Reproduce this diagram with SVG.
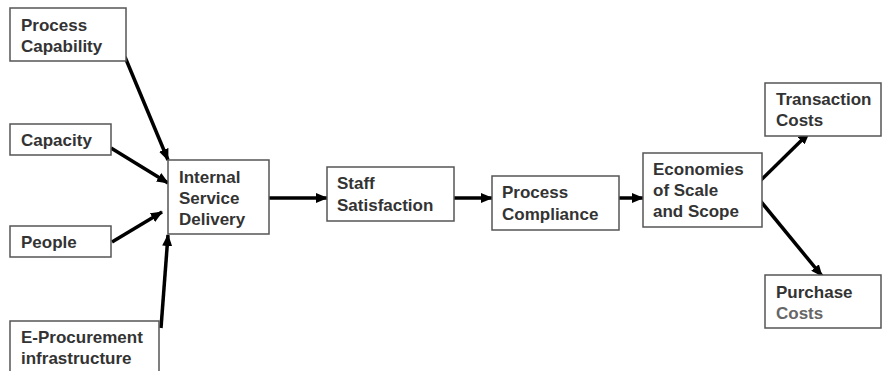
<svg xmlns="http://www.w3.org/2000/svg" width="883" height="371" viewBox="0 0 883 371">
<defs>
<marker id="ah" markerUnits="userSpaceOnUse" markerWidth="12" markerHeight="10" refX="11" refY="5" orient="auto">
<path d="M0,0 L12,5 L0,10 Z" fill="#000"/>
</marker>
<style>
.box{fill:#fff;stroke:#555;stroke-width:1.5}
.t{font-family:"Liberation Sans",Arial,sans-serif;font-weight:bold;font-size:17px;fill:#333}
.c{stroke:#000;stroke-width:3.5;fill:none;marker-end:url(#ah)}
</style>
</defs>
<rect width="883" height="371" fill="#fff"/>
<g id="connectors">
<line class="c" x1="125" y1="57" x2="168" y2="160"/>
<line class="c" x1="111" y1="148" x2="168" y2="183"/>
<line class="c" x1="112" y1="242" x2="162" y2="212"/>
<line class="c" x1="161" y1="328" x2="168" y2="235"/>
<line class="c" x1="269" y1="198" x2="327" y2="198"/>
<line class="c" x1="454" y1="198" x2="492" y2="198"/>
<line class="c" x1="619" y1="198" x2="643" y2="198"/>
<line class="c" x1="758" y1="183" x2="809" y2="133"/>
<line class="c" x1="758" y1="198" x2="822" y2="276"/>
</g>
<g id="process-capability">
<rect class="box" x="10" y="8" width="116" height="53"/>
<text class="t" x="21" y="31">Process</text>
<text class="t" x="21" y="52">Capability</text>
</g>
<g id="capacity">
<rect class="box" x="10" y="124" width="101" height="31"/>
<text class="t" x="21" y="146">Capacity</text>
</g>
<g id="people">
<rect class="box" x="10" y="226" width="101" height="31"/>
<text class="t" x="21" y="248">People</text>
</g>
<g id="e-procurement">
<rect class="box" x="10" y="321" width="149" height="52"/>
<text class="t" x="21" y="343">E-Procurement</text>
<text class="t" x="21" y="364">infrastructure</text>
</g>
<g id="internal-service-delivery">
<rect class="box" x="168" y="160" width="101" height="74"/>
<text class="t" x="179" y="183">Internal</text>
<text class="t" x="179" y="204">Service</text>
<text class="t" x="179" y="225">Delivery</text>
</g>
<g id="staff-satisfaction">
<rect class="box" x="327" y="167" width="127" height="54"/>
<text class="t" x="337" y="189">Staff</text>
<text class="t" x="337" y="211">Satisfaction</text>
</g>
<g id="process-compliance">
<rect class="box" x="492" y="176" width="127" height="54"/>
<text class="t" x="502" y="198">Process</text>
<text class="t" x="502" y="220">Compliance</text>
</g>
<g id="economies">
<rect class="box" x="643" y="153" width="119" height="74"/>
<text class="t" x="653" y="175">Economies</text>
<text class="t" x="653" y="196">of Scale</text>
<text class="t" x="653" y="217">and Scope</text>
</g>
<g id="transaction-costs">
<rect class="box" x="765" y="83" width="116" height="53"/>
<text class="t" x="776" y="105">Transaction</text>
<text class="t" x="776" y="126">Costs</text>
</g>
<g id="purchase-costs">
<rect class="box" x="765" y="275" width="116" height="53"/>
<text class="t" x="776" y="298">Purchase</text>
<text class="t" x="776" y="319" fill="#666" style="fill:#666">Costs</text>
</g>
</svg>
